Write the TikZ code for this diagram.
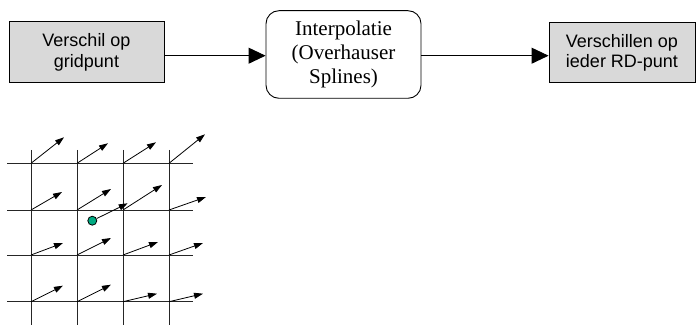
\documentclass[tikz,border=0pt]{standalone}
\usepackage{fontspec}
\setmainfont{Liberation Serif}
\setsansfont{Liberation Sans}
\usetikzlibrary{arrows.meta,calc}
\definecolor{boxgray}{RGB}{217,217,217}
\definecolor{dotgreen}{RGB}{0,170,130}
\begin{document}
\begin{tikzpicture}[x=1pt,y=-1pt,
  sbox/.style={draw=black,line width=0.9pt,fill=boxgray,minimum width=155pt,minimum height=61pt,
    inner sep=0pt,align=center,font=\sffamily\fontsize{18}{20.7}\selectfont},
  rbox/.style={draw=black,line width=0.9pt,rounded corners=13pt,minimum width=155pt,minimum height=87.6pt,
    inner sep=0pt,align=center,font=\rmfamily\fontsize{21}{24}\selectfont},
  bigarrow/.style={line width=0.9pt,-{Triangle[length=17pt,width=16pt]}},
  gridline/.style={line width=0.9pt,draw=black!85},
  vec/.style={line width=0.8pt,-{Triangle[length=9pt,width=6pt]}},
  dot/.style={circle,draw=black,line width=0.8pt,fill=dotgreen,minimum size=9pt,inner sep=0pt}]
\useasboundingbox (0,0) rectangle (696,326);
% top flow
\node[sbox] (box1) at (86.5,52.2) {Verschil op\\gridpunt};
\node[rbox] (interp) at (343.5,54.5) {Interpolatie\\(Overhauser\\Splines)};
\node[sbox,minimum width=146pt,minimum height=60pt] (box3) at (622,52.7) {Verschillen op\\ieder RD-punt};
\coordinate (ya) at (0,55.7);
\draw[bigarrow] (box1.east |- ya) -- (interp.west |- ya);
\draw[bigarrow] (interp.east |- ya) -- (box3.west |- ya);
% grid
\foreach \x in {31,77,123,169} \draw[gridline] (\x,150) -- (\x,325);
\foreach \y in {163.3,210,255,301.7} \draw[gridline] (7,\y) -- (193,\y);
% vectors
\foreach \y/\r in {163.3/1,210/2,255/3,301.7/4}
  \foreach \x/\c in {31/1,77/2,123/3,169/4}
    \coordinate (g\r\c) at (\x,\y);
\foreach \r/\c/\dx/\dy in {1/1/33/-26,1/2/31/-20,1/3/33/-21,1/4/36/-29,
  2/1/31/-18,2/2/34/-21,2/3/39/-25,2/4/37/-13,
  3/1/32/-12,3/2/34/-17,3/3/35/-13,3/4/34/-12,
  4/1/32/-16,4/2/34/-17,4/3/34/-8,4/4/34/-8}{
  \coordinate (t\r\c) at ($(g\r\c)+(\dx,\dy)$);
  \draw[vec] (g\r\c) -- (t\r\c);
}
\node[dot] (pt) at (92.3,220.7) {};
\coordinate (ptip) at (127.7,203.3);
\draw[vec] (pt) -- (ptip);
\end{tikzpicture}
\end{document}
